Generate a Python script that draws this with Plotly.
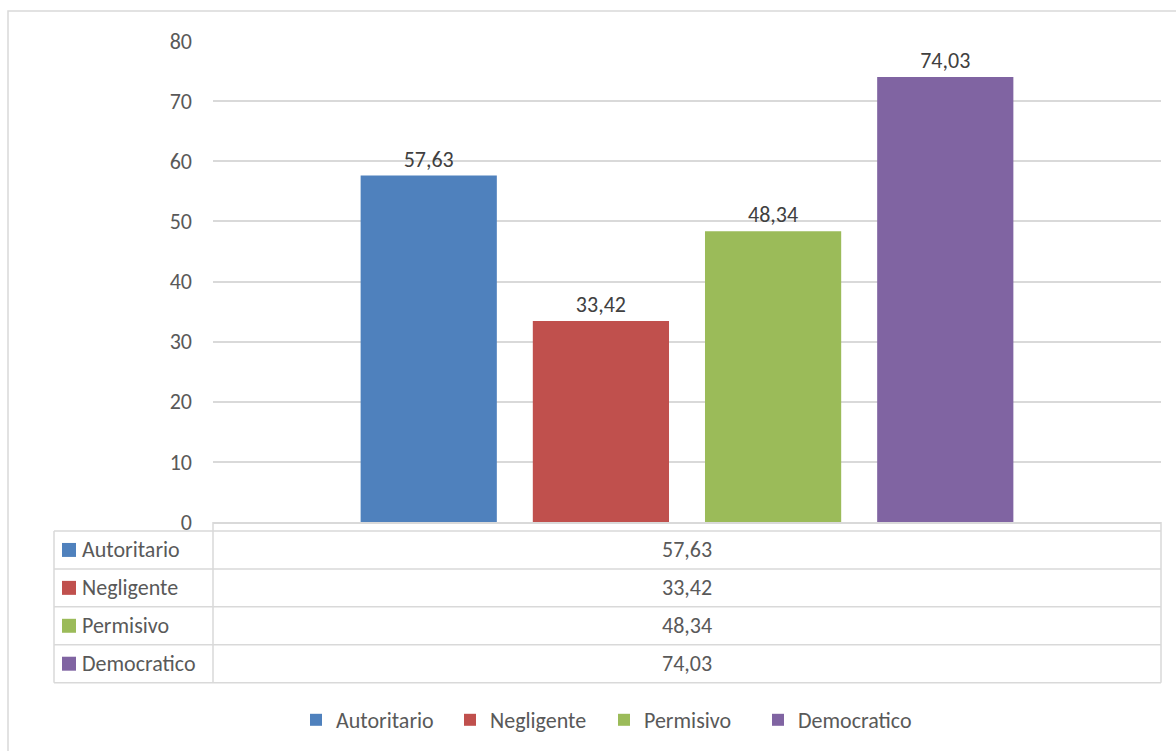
import plotly.graph_objects as go

# ---- data ----
series = ["Autoritario", "Negligente", "Permisivo", "Democratico"]
values = [57.63, 33.42, 48.34, 74.03]
y_ticks = [0, 10, 20, 30, 40, 50, 60, 70, 80]
category = ["Estilo"]

# ---- styles ----
colors = ["#4F81BD", "#C0504D", "#9BBB59", "#8064A2"]
FONT = "Calibri, Carlito, Lato, sans-serif"
FS = 22
TXT = "#595959"
GRID = "#D9D9D9"

W, H = 1176, 751
L, R, T, B = 213, 15, 41, 228
PW, PH = W - L - R, H - T - B


def fmt(v):
    return f"{v:.2f}".replace(".", ",")


def px_x(px):
    return (px - L) / PW


def px_y(py):
    return (H - B - py) / PH


fig = go.Figure()
for name, val, col in zip(series, values, colors):
    fig.add_trace(go.Bar(
        x=category, y=[val], name=name,
        marker=dict(color=col, line=dict(width=0)),
        text=[fmt(val)],
        textposition="outside",
        textfont=dict(family=FONT, size=FS, color="#404040"),
        cliponaxis=False,
    ))

shapes = []
annotations = []

# outer chart border
shapes.append(dict(type="rect", xref="paper", yref="paper",
                   x0=px_x(8), x1=px_x(1182), y0=px_y(765), y1=px_y(11),
                   line=dict(color=GRID, width=1.5), fillcolor="rgba(0,0,0,0)"))

# data table
row_top = 532
row_h = 38
tab_left, col_split, tab_right = 54, 213, 1161
n = len(series)
tab_bottom = row_top + n * row_h
for i in range(n + 1):
    yy = row_top + i * row_h
    shapes.append(dict(type="line", xref="paper", yref="paper",
                       x0=px_x(tab_left), x1=px_x(tab_right), y0=px_y(yy), y1=px_y(yy),
                       line=dict(color=GRID, width=1.5)))
shapes.append(dict(type="line", xref="paper", yref="paper",
                   x0=px_x(tab_left), x1=px_x(tab_left), y0=px_y(row_top), y1=px_y(tab_bottom),
                   line=dict(color=GRID, width=1.5)))
for xx in (col_split, tab_right):
    shapes.append(dict(type="line", xref="paper", yref="paper",
                       x0=px_x(xx), x1=px_x(xx), y0=px_y(523), y1=px_y(tab_bottom),
                       line=dict(color=GRID, width=1.5)))

for i, (name, val, col) in enumerate(zip(series, values, colors)):
    cy = row_top + i * row_h + row_h / 2
    shapes.append(dict(type="rect", xref="paper", yref="paper",
                       x0=px_x(62), x1=px_x(76), y0=px_y(cy - 7), y1=px_y(cy + 7),
                       line=dict(width=0), fillcolor=col))
    annotations.append(dict(xref="paper", yref="paper", x=px_x(80), y=px_y(cy),
                            xanchor="left", yanchor="middle", showarrow=False,
                            text=name, font=dict(family=FONT, size=FS, color=TXT)))
    annotations.append(dict(xref="paper", yref="paper", x=px_x((col_split + tab_right) / 2), y=px_y(cy),
                            xanchor="center", yanchor="middle", showarrow=False,
                            text=fmt(val), font=dict(family=FONT, size=FS, color=TXT)))

fig.update_layout(
    width=W, height=H,
    margin=dict(l=L, r=R, t=T, b=B, pad=0),
    paper_bgcolor="white", plot_bgcolor="white",
    font=dict(family=FONT, size=FS, color=TXT),
    barmode="group", bargap=0.2735, bargroupgap=0.209,
    showlegend=True,
    legend=dict(orientation="h", x=px_x(604), y=px_y(720),
                xanchor="center", yanchor="middle",
                font=dict(family=FONT, size=FS, color=TXT),
                itemwidth=30, tracegroupgap=0,
                entrywidth=109, entrywidthmode="pixels"),
    xaxis=dict(showticklabels=False, showgrid=False, showline=True,
               linecolor=GRID, linewidth=1.5, ticks="", zeroline=False),
    yaxis=dict(range=[0, 80], tickvals=y_ticks, showgrid=True, gridcolor=GRID,
               gridwidth=1.5, zeroline=False, showline=False, ticks="",
               ticklabelstandoff=20,
               tickfont=dict(family=FONT, size=FS, color=TXT)),
    shapes=shapes, annotations=annotations,
)

fig.write_html("out.html", config={"displayModeBar": False},
               post_script="document.body.style.margin='0';document.body.style.overflow='hidden';")
